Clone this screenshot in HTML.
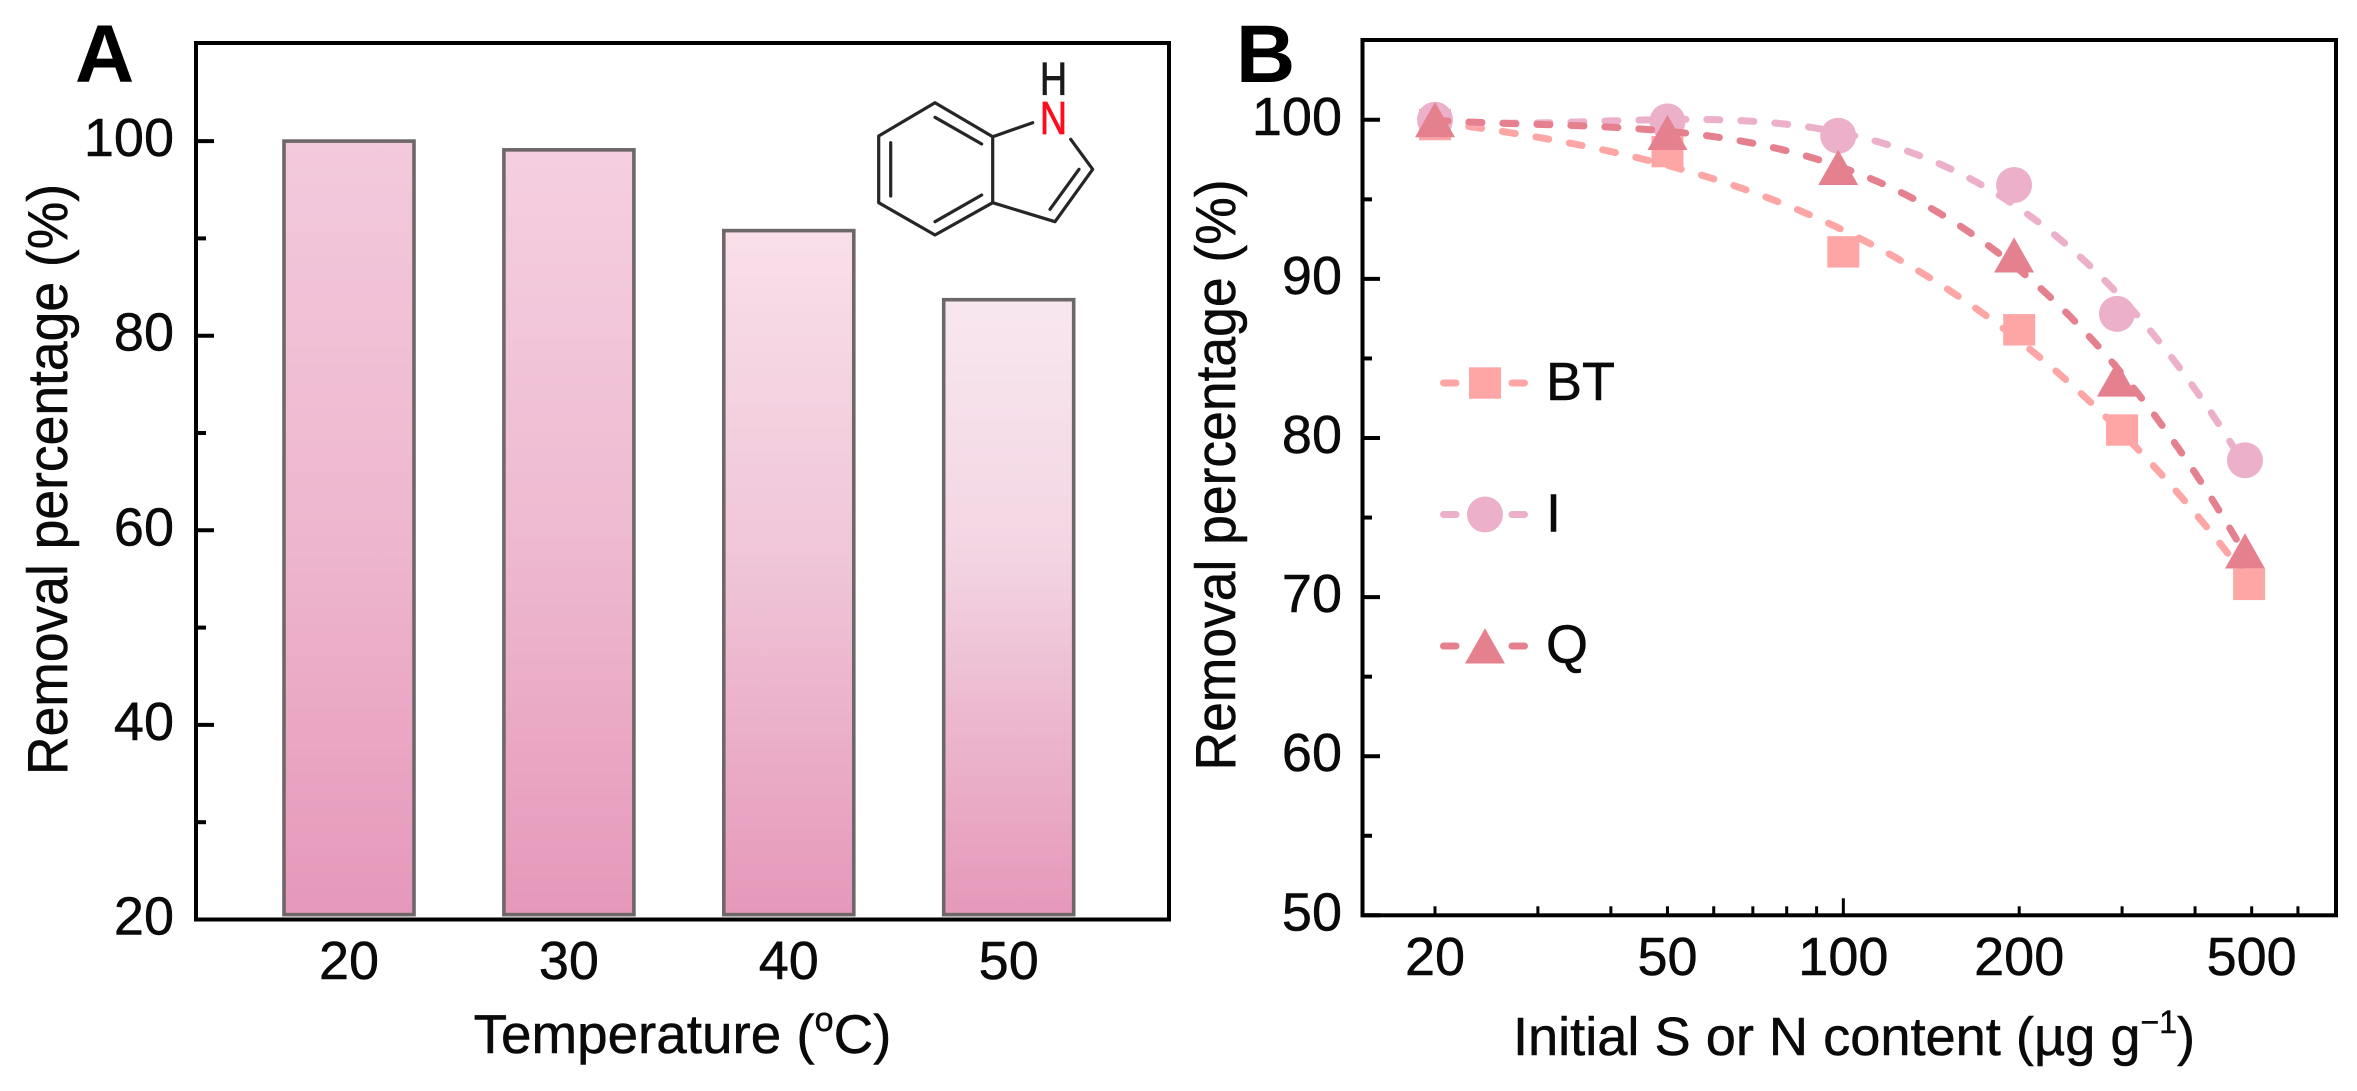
<!DOCTYPE html>
<html lang="en">
<head>
<meta charset="utf-8">
<title>Removal percentage charts</title>
<style>
html,body{margin:0;padding:0;background:#fff;width:2357px;height:1091px;overflow:hidden}
svg{display:block}
text{font-family:"Liberation Sans",Arial,sans-serif;fill:#0a0a0a;stroke:#0a0a0a;stroke-width:.5}
</style>
</head>
<body>
<svg id="figure" xmlns="http://www.w3.org/2000/svg" width="2357" height="1091" viewBox="0 0 2357 1091">
  <defs>
    <linearGradient id="bar-grad-0" x1="0" y1="0" x2="0" y2="1">
      <stop offset="0" stop-color="#f3c9dc"/><stop offset=".5" stop-color="#eeb7cf"/><stop offset="1" stop-color="#e698ba"/>
    </linearGradient>
    <linearGradient id="bar-grad-1" x1="0" y1="0" x2="0" y2="1">
      <stop offset="0" stop-color="#f5cfe0"/><stop offset=".5" stop-color="#eebad1"/><stop offset="1" stop-color="#e698ba"/>
    </linearGradient>
    <linearGradient id="bar-grad-2" x1="0" y1="0" x2="0" y2="1">
      <stop offset="0" stop-color="#f9dfe9"/><stop offset=".5" stop-color="#efc4d7"/><stop offset="1" stop-color="#e698ba"/>
    </linearGradient>
    <linearGradient id="bar-grad-3" x1="0" y1="0" x2="0" y2="1">
      <stop offset="0" stop-color="#f8e7ef"/><stop offset=".4" stop-color="#f3d6e3"/><stop offset=".68" stop-color="#ecb8cf"/><stop offset="1" stop-color="#e698ba"/>
    </linearGradient>
  </defs>

  <text x="75" y="82" font-size="82" font-weight="700" style="font-weight:700;fill:#000;stroke:none">A</text>
  <text x="1236" y="82" font-size="82" font-weight="700" style="font-weight:700;fill:#000;stroke:none">B</text>

  <g id="panel-a"></g>
  <g id="panel-b"></g>

  <text transform="translate(67 479.5) rotate(-90)" text-anchor="middle" font-size="57" textLength="591" lengthAdjust="spacingAndGlyphs">Removal percentage (%)</text>
  <text x="682.5" y="1053" text-anchor="middle" font-size="54.8">Temperature (<tspan font-size="34" dy="-22">o</tspan><tspan dy="22">C)</tspan></text>
  <text transform="translate(1235 475) rotate(-90)" text-anchor="middle" font-size="57" textLength="591" lengthAdjust="spacingAndGlyphs">Removal percentage (%)</text>
  <text x="1854" y="1055" text-anchor="middle" font-size="54.2">Initial S or N content (µg g<tspan font-size="32" dy="-22">−1</tspan><tspan dy="22">)</tspan></text>

  <g stroke="#262626" stroke-width="3.2" fill="none" stroke-linecap="round" stroke-linejoin="round">
    <path d="M935 102.7 L992.7 136.7 L992.7 202.7 L935 235 L878.7 202.7 L878.7 136 Z"/>
    <path d="M935 117.3 L981.7 144 M890.7 142.7 L890.7 196 M935 221.7 L981.7 195"/>
    <path d="M992.7 136.7 L1032.7 122.7 M1070.7 139.3 L1092.7 169.3 L1055 221.7 L992.7 202.7 M1079 169.3 L1050 209.3"/>
  </g>
  <text transform="translate(1053.5 95) scale(.82 1)" text-anchor="middle" font-size="46" style="fill:#1a1a1a;stroke:#1a1a1a;stroke-width:.8">H</text>
  <text transform="translate(1053.5 134) scale(.82 1)" text-anchor="middle" font-size="46" style="fill:#ff0c1c;stroke:#ff0c1c;stroke-width:.8">N</text>
</svg>

<script>
// Panel A data
const temperatureCategories = ['20', '30', '40', '50'];
const temperatureRemoval = [100, 99.1, 90.8, 83.7];
const panelAMajorTicks = [20, 40, 60, 80, 100];
const panelAMinorTicks = [30, 50, 70, 90];

// Panel B data
const contentMajorTickLabels = [20, 50, 100, 200, 500];
const contentAllTicks = [20, 30, 40, 50, 60, 70, 80, 90, 100, 200, 300, 400, 500, 600];
const panelBMajorTicks = [50, 60, 70, 80, 90, 100];
const panelBMinorTicks = [55, 65, 75, 85, 95];

const btContent = [20, 50, 100, 200, 300, 495];
const btRemoval = [99.7, 98, 91.7, 86.8, 80.5, 70.8];
const iContent = [20, 50, 98, 196, 294, 487];
const iRemoval = [100, 99.9, 99, 95.9, 87.8, 78.6];
const qContent = [20, 50, 98, 196, 294, 487];
const qRemoval = [100, 99.2, 97, 91.5, 83.7, 72.9];
const seriesNames = ['BT', 'I', 'Q'];

const NS = 'http://www.w3.org/2000/svg';
const BT_COLOR = '#fea6a6', I_COLOR = '#ecb0cb', Q_COLOR = '#e5808f';

function mk(tag, attrs, parent, txt) {
  const n = document.createElementNS(NS, tag);
  for (const k in attrs) n.setAttribute(k, attrs[k]);
  if (txt !== undefined) n.textContent = txt;
  parent.appendChild(n);
  return n;
}

/* axis functions */
function yA(v) { return 919.5 - (v - 20) * 9.73; }
function xA(i) { return 349 + i * 219.9; }
function yB(v) { return 915.3 - (v - 50) * 15.91; }
function xB(v) { return 1435 + 584.2 * Math.log10(v / 20); }

const panelA = document.getElementById('panel-a');
const panelB = document.getElementById('panel-b');

/* ---------- Panel A ---------- */
temperatureRemoval.forEach(function (val, i) {
  const top = yA(val), bottom = yA(20.5);
  const bar = mk('rect', {
    x: xA(i) - 65, y: top, width: 130, height: bottom - top,
    fill: 'url(#bar-grad-' + i + ')', stroke: '#6d6769', 'stroke-width': 3.6
  }, panelA);
  
  

  const lab = mk('text', { x: xA(i), y: 979, 'text-anchor': 'middle', 'font-size': 54 }, panelA, temperatureCategories[i]);
  
  
});

const frameA = mk('rect', { x: 196, y: 43, width: 973, height: 876.5, fill: 'none', stroke: '#000', 'stroke-width': 4 }, panelA);



panelAMajorTicks.forEach(function (v) {
  const t = mk('line', { x1: 196, x2: 214, y1: yA(v), y2: yA(v), stroke: '#000', 'stroke-width': 4 }, panelA);
  
  
  const l = mk('text', { x: 174, y: yA(v) + 15, 'text-anchor': 'end', 'font-size': 54 }, panelA, String(v));
  
  
});
panelAMinorTicks.forEach(function (v) {
  const t = mk('line', { x1: 196, x2: 206, y1: yA(v), y2: yA(v), stroke: '#000', 'stroke-width': 4 }, panelA);
  
  
});

/* ---------- Panel B ---------- */
const frameB = mk('rect', { x: 1362.5, y: 40, width: 973.5, height: 875.3, fill: 'none', stroke: '#000', 'stroke-width': 4 }, panelB);



panelBMajorTicks.forEach(function (v) {
  const t = mk('line', { x1: 1362.5, x2: 1380, y1: yB(v), y2: yB(v), stroke: '#000', 'stroke-width': 4 }, panelB);
  
  
  const l = mk('text', { x: 1342, y: yB(v) + 15, 'text-anchor': 'end', 'font-size': 54 }, panelB, String(v));
  
  
});
panelBMinorTicks.forEach(function (v) {
  const t = mk('line', { x1: 1362.5, x2: 1372, y1: yB(v), y2: yB(v), stroke: '#000', 'stroke-width': 4 }, panelB);
  
  
});
contentAllTicks.forEach(function (v) {
  const len = v === 100 ? 17 : 9;
  const t = mk('line', { x1: xB(v), x2: xB(v), y1: 915.3, y2: 915.3 - len, stroke: '#000', 'stroke-width': 3 }, panelB);
  
  
});
contentMajorTickLabels.forEach(function (v) {
  const l = mk('text', { x: xB(v), y: 975, 'text-anchor': 'middle', 'font-size': 54 }, panelB, String(v));
  
  
});

/* least-squares cubic trend through the points, on the log content axis */
function fitCubic(ts, ys) {
  const N = 4;
  const M = [];
  for (let r = 0; r < N; r++) {
    M.push(new Array(N + 1).fill(0));
    for (let c = 0; c < N; c++) {
      ts.forEach(function (t) { M[r][c] += Math.pow(t, r + c); });
    }
    ts.forEach(function (t, i) { M[r][N] += Math.pow(t, r) * ys[i]; });
  }
  for (let p = 0; p < N; p++) {
    let best = p;
    for (let r = p + 1; r < N; r++) if (Math.abs(M[r][p]) > Math.abs(M[best][p])) best = r;
    const tmp = M[p]; M[p] = M[best]; M[best] = tmp;
    for (let r = 0; r < N; r++) {
      if (r === p) continue;
      const f = M[r][p] / M[p][p];
      for (let c = p; c <= N; c++) M[r][c] -= f * M[p][c];
    }
  }
  return M.map(function (row, i) { return row[N] / row[i]; });
}

function trendPath(xs, ys) {
  const first = Math.log10(xs[0]), last = Math.log10(xs[xs.length - 1]);
  const ts = xs.map(function (x) { return (Math.log10(x) - first) / (last - first); });
  const k = fitCubic(ts, ys);
  let path = '';
  const steps = 160;
  for (let s = 0; s <= steps; s++) {
    const t = s / steps;
    const y = k[0] + t * (k[1] + t * (k[2] + t * k[3]));
    const x = Math.pow(10, first + t * (last - first));
    path += (s ? ' L' : 'M') + xB(x).toFixed(2) + ' ' + yB(y).toFixed(2);
  }
  return path;
}

function drawMarker(kind, x, y, color, parent) {
  if (kind === 'square') {
    return mk('rect', { x: x - 16, y: y - 15.7, width: 32, height: 31.4, fill: color }, parent);
  }
  if (kind === 'circle') {
    return mk('circle', { cx: x, cy: y, r: 18, fill: color }, parent);
  }
  return mk('polygon', { points: (x) + ',' + (y - 17.7) + ' ' + (x + 20) + ',' + (y + 17.5) + ' ' + (x - 20) + ',' + (y + 17.5), fill: color }, parent);
}

function drawSeries(name, xs, ys, kind, color) {
  const g = mk('g', {}, panelB);
  
  
  xs.forEach(function (x, i) {
    const m = drawMarker(kind, xB(x), yB(ys[i]), color, g);
    
    
  });
  const line = mk('path', {
    d: trendPath(xs, ys), fill: 'none', stroke: color, 'stroke-width': 7,
    'stroke-linecap': 'round', 'stroke-dasharray': '13 21'
  }, g);
  
  
}

drawSeries(seriesNames[0], btContent, btRemoval, 'square', BT_COLOR);
drawSeries(seriesNames[1], iContent, iRemoval, 'circle', I_COLOR);
drawSeries(seriesNames[2], qContent, qRemoval, 'triangle', Q_COLOR);

/* ---------- Legend ---------- */
const legendKinds = ['square', 'circle', 'triangle'];
const legendColors = [BT_COLOR, I_COLOR, Q_COLOR];
seriesNames.forEach(function (name, i) {
  const rowY = 383 + i * 131.5;
  const g = mk('g', {}, panelB);
  
  
  const a = mk('line', { x1: 1443.5, x2: 1456, y1: rowY, y2: rowY, stroke: legendColors[i], 'stroke-width': 7, 'stroke-linecap': 'round' }, g);
  
  
  const b = mk('line', { x1: 1512, x2: 1524.5, y1: rowY, y2: rowY, stroke: legendColors[i], 'stroke-width': 7, 'stroke-linecap': 'round' }, g);
  
  
  const m = drawMarker(legendKinds[i], 1485, rowY, legendColors[i], g);
  
  
  const t = mk('text', { x: 1546, y: rowY + 17, 'font-size': 54 }, g, name);
  
  
});
</script>
</body>
</html>
